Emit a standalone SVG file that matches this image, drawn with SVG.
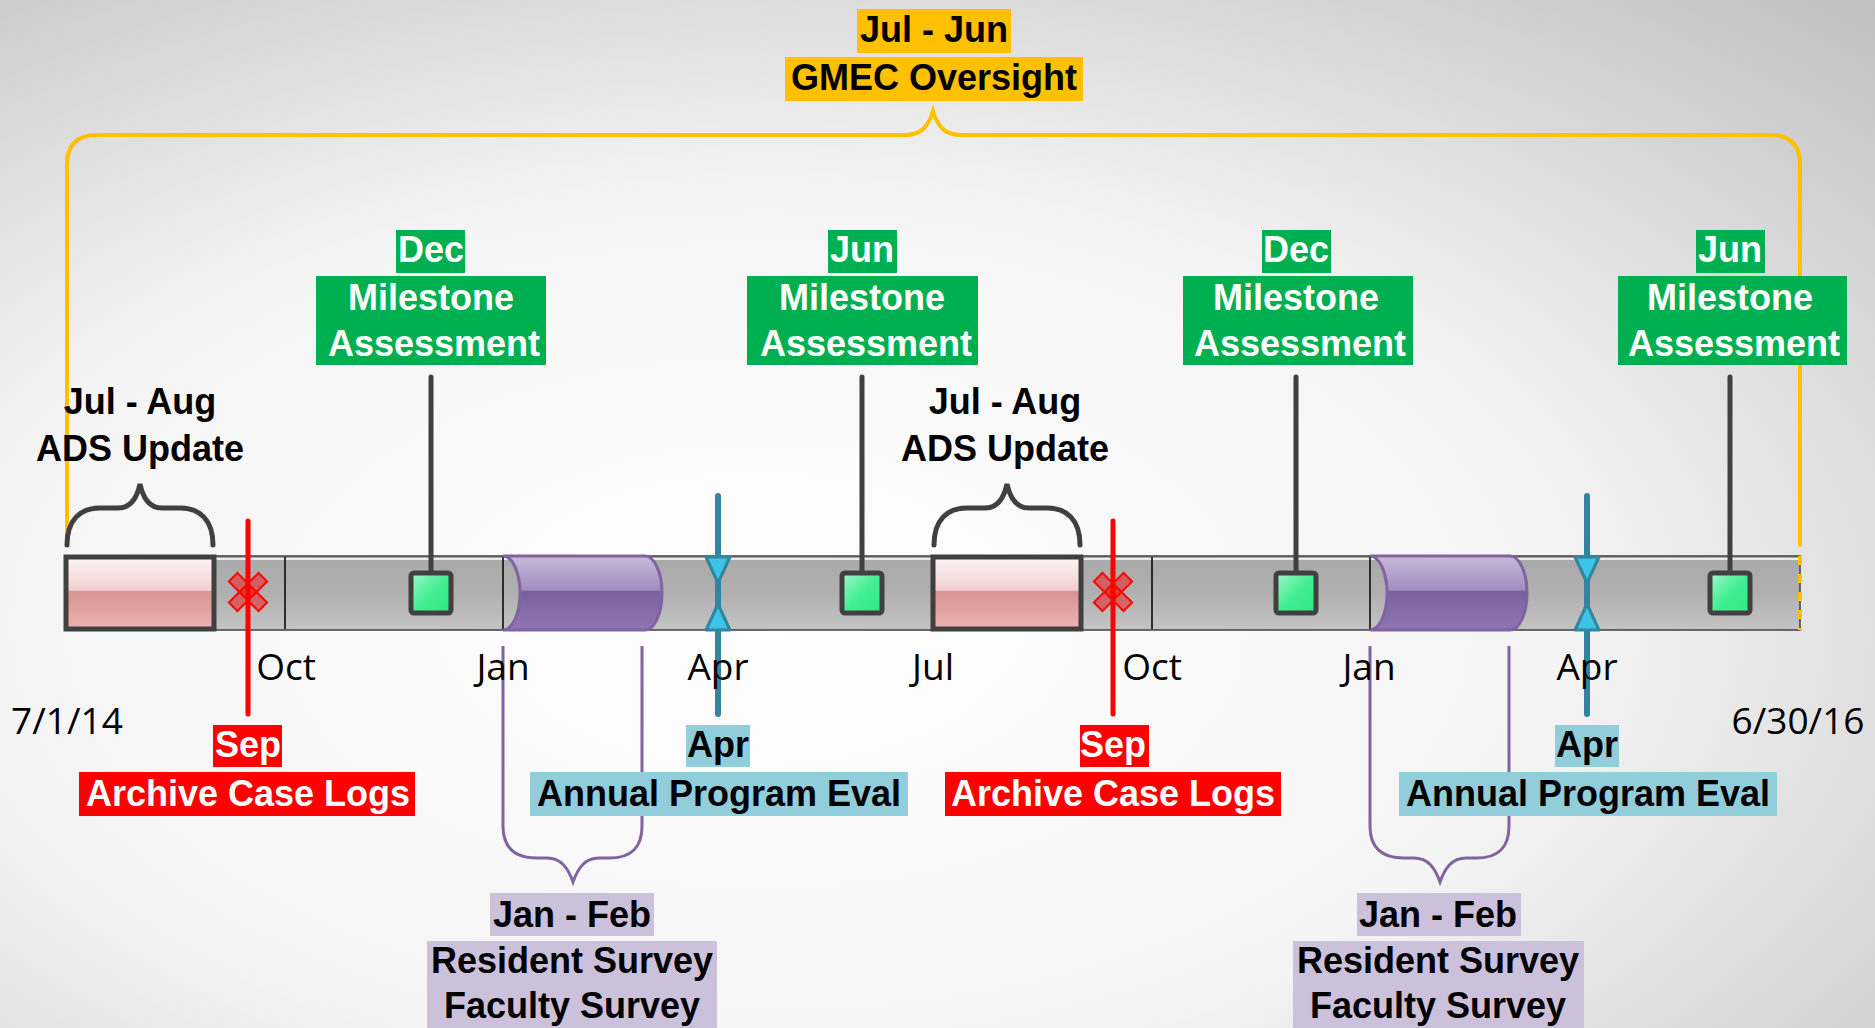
<svg xmlns="http://www.w3.org/2000/svg" width="1875" height="1028" viewBox="0 0 1875 1028">
<defs>
<radialGradient id="bg" cx="0.42" cy="0.62" r="0.85" fx="0.4" fy="0.6">
<stop offset="0" stop-color="#ffffff"/><stop offset="0.5" stop-color="#f4f4f4"/><stop offset="1" stop-color="#bfbfbf"/>
</radialGradient>
<linearGradient id="barG" x1="0" y1="0" x2="0" y2="1">
<stop offset="0" stop-color="#a9a9a9"/><stop offset="0.5" stop-color="#b0b0b0"/><stop offset="1" stop-color="#c4c4c4"/>
</linearGradient>
<linearGradient id="pinkG" x1="0" y1="0" x2="0" y2="1">
<stop offset="0" stop-color="#fdf4f5"/><stop offset="0.46" stop-color="#f0d0d2"/><stop offset="0.48" stop-color="#d99493"/><stop offset="1" stop-color="#eab3b1"/>
</linearGradient>
<linearGradient id="purG" x1="0" y1="0" x2="0" y2="1">
<stop offset="0" stop-color="#c8badb"/><stop offset="0.46" stop-color="#a28cc0"/><stop offset="0.48" stop-color="#7b609e"/><stop offset="1" stop-color="#9176b4"/>
</linearGradient>
<linearGradient id="grnG" x1="0" y1="0" x2="1" y2="1">
<stop offset="0" stop-color="#a2f8cc"/><stop offset="0.5" stop-color="#44ee94"/><stop offset="1" stop-color="#2ee880"/>
</linearGradient>
<style>
.lbl{font-family:"Liberation Sans",Arial,sans-serif;font-weight:bold;font-size:36px;text-anchor:middle}
.wt{fill:#ffffff}
.bk{fill:#000000}
.mon{font-family:"Open Sans","Liberation Sans",sans-serif;font-size:37px;fill:#000;text-anchor:middle}
.green{fill:#00b050}
.red{fill:#ff0000}
.blue{fill:#92cddc}
.purp{fill:#ccc1da}
.yel{fill:#ffc000}
.stem{stroke:#404040;stroke-width:5;stroke-linecap:round}
.sq{fill:url(#grnG);stroke:#404040;stroke-width:5}
.pink{fill:url(#pinkG);stroke:#404040;stroke-width:5}
.gbrace{fill:none;stroke:#404040;stroke-width:5;stroke-linecap:round}
.pbrace{fill:none;stroke:#8064a2;stroke-width:3}
.cyl{fill:url(#purG);stroke:#8064a2;stroke-width:3}
.tick{stroke:#000;stroke-width:1.5}
.redline{stroke:#ff0000;stroke-width:5;stroke-linecap:round}
.xarm{fill:#ff0000;fill-opacity:0.45;stroke:#ff0000;stroke-width:2}
.teal{stroke:#31859c;stroke-width:6;stroke-linecap:round}
.tri{fill:#3dc3e8;stroke:#31859c;stroke-width:3;stroke-linejoin:round}
</style>
</defs>
<rect x="0" y="0" width="1875" height="1028" fill="url(#bg)"/>

<g id="timeline">
<rect x="66" y="556" width="1734" height="74" fill="url(#barG)" stroke="#404040" stroke-width="1.5"/>
<line x1="66" y1="559" x2="1800" y2="559" stroke="#ffffff" stroke-width="1.5"/>
<line class="tick" x1="285" y1="557" x2="285" y2="629"/>
<line class="tick" x1="503" y1="557" x2="503" y2="629"/>
<line class="tick" x1="1152" y1="557" x2="1152" y2="629"/>
<line class="tick" x1="1370" y1="557" x2="1370" y2="629"/>
</g>

<g id="gmec">
<path d="M67,537 L67,165 Q67,135 97,135 L905,135 C920,135 928,128 933,111 C938,128 946,135 961,135 L1770,135 Q1800,135 1800,165 L1800,545" fill="none" stroke="#ffc000" stroke-width="4" stroke-linecap="round"/>
<line x1="1800" y1="556" x2="1800" y2="630" stroke="#ffc000" stroke-width="4" stroke-dasharray="9,9"/>
<rect class="yel" x="857" y="9" width="154" height="44"/>
<rect class="yel" x="785" y="57" width="298" height="44"/>
<text class="lbl bk" x="934" y="42">Jul - Jun</text>
<text class="lbl bk" x="934" y="90">GMEC Oversight</text>
</g>

<g id="ads1">
<rect class="pink" x="66" y="557" width="148" height="72"/>
<path class="gbrace" d="M67,545 C67,520 80,508 100,508 L118,508 C130,508 137,498 140,484 C143,498 150,508 162,508 L180,508 C200,508 213,520 213,545"/>
<text class="lbl bk" x="140" y="414">Jul - Aug</text>
<text class="lbl bk" x="140" y="461">ADS Update</text>
</g>
<g id="ads2">
<rect class="pink" x="933" y="557" width="148" height="72"/>
<path class="gbrace" d="M934,545 C934,520 947,508 967,508 L985,508 C997,508 1004,498 1007,484 C1010,498 1017,508 1029,508 L1047,508 C1067,508 1080,520 1080,545"/>
<text class="lbl bk" x="1005" y="414">Jul - Aug</text>
<text class="lbl bk" x="1005" y="461">ADS Update</text>
</g>

<g id="survey1">
<path class="cyl" d="M503,556 L645,556 A17,37 0 0 1 645,630 L503,630 A17,37 0 0 0 503,556 Z"/>
<rect class="purp" x="490" y="893" width="164" height="43"/>
<rect class="purp" x="427" y="941" width="290" height="87"/>
<text class="lbl bk" x="572" y="927">Jan - Feb</text>
<text class="lbl bk" x="572" y="973">Resident Survey</text>
<text class="lbl bk" x="572" y="1018">Faculty Survey</text>
</g>
<g id="survey2">
<path class="cyl" d="M1370,556 L1510,556 A17,37 0 0 1 1510,630 L1370,630 A17,37 0 0 0 1370,556 Z"/>
<rect class="purp" x="1357" y="893" width="164" height="43"/>
<rect class="purp" x="1293" y="941" width="291" height="87"/>
<text class="lbl bk" x="1438" y="927">Jan - Feb</text>
<text class="lbl bk" x="1438" y="973">Resident Survey</text>
<text class="lbl bk" x="1438" y="1018">Faculty Survey</text>
</g>

<g id="connectors">
<line class="stem" x1="431" y1="377" x2="431" y2="573"/>
<line class="stem" x1="862" y1="377" x2="862" y2="573"/>
<line class="stem" x1="1296" y1="377" x2="1296" y2="573"/>
<line class="stem" x1="1730" y1="377" x2="1730" y2="573"/>
<path class="pbrace" d="M503,646 L503,826 C503,848 515,858 537,858 L547,858 C561,858 568,868 573,882 C578,868 585,858 599,858 L609,858 C631,858 642,848 642,826 L642,646"/>
<path class="pbrace" d="M1370,646 L1370,826 C1370,848 1382,858 1404,858 L1414,858 C1428,858 1435,868 1440,882 C1445,868 1452,858 1466,858 L1476,858 C1498,858 1509,848 1509,826 L1509,646"/>
</g>

<g id="milestone1">
<rect class="sq" x="411" y="573" width="40" height="40" rx="3"/>
<rect class="green" x="396" y="230" width="69" height="43"/>
<rect class="green" x="316" y="276" width="230" height="89"/>
<text class="lbl wt" x="431" y="262">Dec</text>
<text class="lbl wt" x="431" y="310">Milestone</text>
<text class="lbl wt" x="434" y="356">Assessment</text>
</g>
<g id="milestone2">
<rect class="sq" x="842" y="573" width="40" height="40" rx="3"/>
<rect class="green" x="828" y="230" width="69" height="43"/>
<rect class="green" x="747" y="276" width="231" height="89"/>
<text class="lbl wt" x="862" y="262">Jun</text>
<text class="lbl wt" x="862" y="310">Milestone</text>
<text class="lbl wt" x="866" y="356">Assessment</text>
</g>
<g id="milestone3">
<rect class="sq" x="1276" y="573" width="40" height="40" rx="3"/>
<rect class="green" x="1262" y="230" width="69" height="43"/>
<rect class="green" x="1183" y="276" width="230" height="89"/>
<text class="lbl wt" x="1296" y="262">Dec</text>
<text class="lbl wt" x="1296" y="310">Milestone</text>
<text class="lbl wt" x="1300" y="356">Assessment</text>
</g>
<g id="milestone4">
<rect class="sq" x="1710" y="573" width="40" height="40" rx="3"/>
<rect class="green" x="1696" y="230" width="69" height="43"/>
<rect class="green" x="1618" y="276" width="229" height="89"/>
<text class="lbl wt" x="1730" y="262">Jun</text>
<text class="lbl wt" x="1730" y="310">Milestone</text>
<text class="lbl wt" x="1734" y="356">Assessment</text>
</g>

<g id="archive1">
<rect class="xarm" x="227" y="586" width="42" height="12" transform="rotate(45 248 592)"/>
<rect class="xarm" x="227" y="586" width="42" height="12" transform="rotate(-45 248 592)"/>
<line class="redline" x1="248" y1="521" x2="248" y2="714"/>
<rect class="red" x="213" y="725" width="69" height="42"/>
<rect class="red" x="79" y="772" width="336" height="44"/>
<text class="lbl wt" x="248" y="757">Sep</text>
<text class="lbl wt" x="248" y="806">Archive Case Logs</text>
</g>
<g id="archive2">
<rect class="xarm" x="1092" y="586" width="42" height="12" transform="rotate(45 1113 592)"/>
<rect class="xarm" x="1092" y="586" width="42" height="12" transform="rotate(-45 1113 592)"/>
<line class="redline" x1="1113" y1="521" x2="1113" y2="714"/>
<rect class="red" x="1080" y="725" width="69" height="42"/>
<rect class="red" x="945" y="772" width="336" height="44"/>
<text class="lbl wt" x="1113" y="757">Sep</text>
<text class="lbl wt" x="1113" y="806">Archive Case Logs</text>
</g>

<g id="eval1">
<line class="teal" x1="718" y1="496" x2="718" y2="714"/>
<path class="tri" d="M706,557 L730,557 L718,583 Z"/>
<path class="tri" d="M706,630 L730,630 L718,604 Z"/>
<rect class="blue" x="686" y="725" width="64" height="42"/>
<rect class="blue" x="530" y="772" width="378" height="44"/>
<text class="lbl bk" x="718" y="757">Apr</text>
<text class="lbl bk" x="719" y="806">Annual Program Eval</text>
</g>
<g id="eval2">
<line class="teal" x1="1587" y1="496" x2="1587" y2="714"/>
<path class="tri" d="M1575,557 L1599,557 L1587,583 Z"/>
<path class="tri" d="M1575,630 L1599,630 L1587,604 Z"/>
<rect class="blue" x="1555" y="725" width="64" height="42"/>
<rect class="blue" x="1399" y="772" width="378" height="44"/>
<text class="lbl bk" x="1587" y="757">Apr</text>
<text class="lbl bk" x="1588" y="806">Annual Program Eval</text>
</g>

<g id="months">
<text class="mon" x="286" y="680">Oct</text>
<text class="mon" x="503" y="680">Jan</text>
<text class="mon" x="718" y="680">Apr</text>
<text class="mon" x="933" y="680">Jul</text>
<text class="mon" x="1152" y="680">Oct</text>
<text class="mon" x="1369" y="680">Jan</text>
<text class="mon" x="1587" y="680">Apr</text>
<text class="mon" x="67" y="734">7/1/14</text>
<text class="mon" x="1798" y="734">6/30/16</text>
</g>
</svg>
